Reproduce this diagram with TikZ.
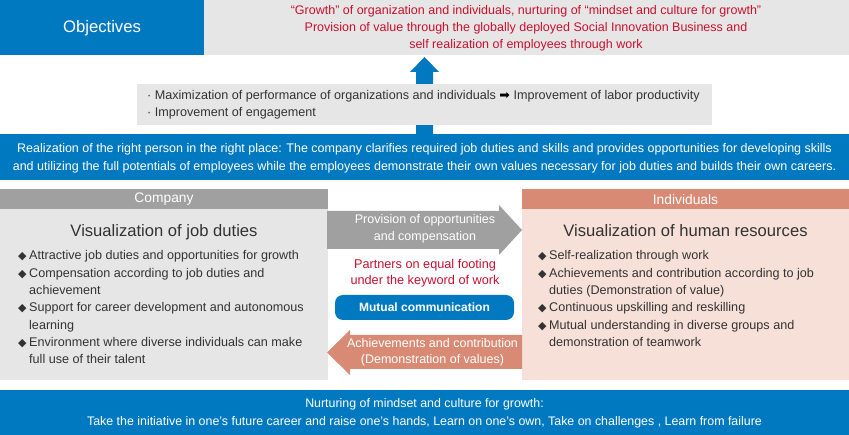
\documentclass[tikz,border=0pt]{standalone}
\usepackage{fontspec}
\setmainfont{Liberation Sans}
\newfontfamily\symfont{DejaVu Sans}
\definecolor{hblue}{RGB}{0,121,193}
\definecolor{hgray}{RGB}{160,160,160}
\definecolor{lgray}{RGB}{230,230,230}
\definecolor{salmon}{RGB}{217,138,117}
\definecolor{lpink}{RGB}{246,224,216}
\definecolor{hred}{RGB}{200,16,46}
\definecolor{dtxt}{RGB}{51,51,51}
\newcommand{\dia}{\makebox[11pt][l]{\symfont\fontsize{11}{9}\selectfont ◆}}
\begin{document}
\begin{tikzpicture}[x=1pt,y=-1pt,
  blk/.style={anchor=north west, inner sep=0pt, outer sep=0pt, draw=none},
  txt/.style={inner sep=0pt, align=center},
  body/.style={font=\fontsize{12.6}{17.3}\selectfont, text=dtxt},
]
\useasboundingbox (0,0) rectangle (849,435);
\fill[white] (0,0) rectangle (849,435);

% blue up arrow (drawn first, partly hidden)
\fill[hblue] (416,135) -- (416,72) -- (410,72) -- (424.5,57) -- (439,72) -- (433,72) -- (433,135) -- cycle;

% objectives row
\node[blk, fill=hblue, minimum width=204, minimum height=55] (objbox) at (0,0) {};
\node[blk, fill=lgray, minimum width=645, minimum height=55] (goalbox) at (204,0) {};
\node[txt, text=white, font=\fontsize{16.7}{18}\selectfont] (objtxt) at (102,28.5) {Objectives};
\node[txt, text=hred, font=\fontsize{12.5}{17}\selectfont] (goaltxt) at (526,28)
  {“Growth” of organization and individuals, nurturing of “mindset and culture for growth”\\
   Provision of value through the globally deployed Social Innovation Business and\\
   self realization of employees through work};

% KPI box
\node[blk, fill=lgray, minimum width=575, minimum height=41] (kpibox) at (137,84) {};
\node[anchor=west, inner sep=0pt, align=left, body] (kpitxt) at (147,104.5)
  {· Maximization of performance of organizations and individuals {\symfont\color{black}➡} Improvement of labor productivity\\
   · Improvement of engagement};

% right person band
\node[blk, fill=hblue, minimum width=849, minimum height=46] (rpbox) at (0,134) {};
\node[txt, text=white, font=\fontsize{12.5}{18}\selectfont] (rptxt) at (424.5,158)
  {Realization of the right person in the right place: The company clarifies required job duties and skills and provides opportunities for developing skills\\
   and utilizing the full potentials of employees while the employees demonstrate their own values necessary for job duties and builds their own careers.};

% company panel
\node[blk, fill=hgray, minimum width=328, minimum height=20] (cohead) at (0,189) {};
\node[blk, fill=lgray, minimum width=328, minimum height=171] (cobody) at (0,209) {};
\node[txt, text=white, font=\fontsize{13.8}{14}\selectfont] (cohtxt) at (164,199.5) {Company};
\node[txt, text=dtxt, font=\fontsize{16.6}{18}\selectfont] (cotitle) at (164,232) {Visualization of job duties};
\node[anchor=base west, inner sep=0pt, body] (colist) at (18,260)
  {\begin{tabular}[t]{@{}l@{}l@{}}
   \dia & Attractive job duties and opportunities for growth\\
   \dia & Compensation according to job duties and\\
        & achievement\\
   \dia & Support for career development and autonomous\\
        & learning\\
   \dia & Environment where diverse individuals can make\\
        & full use of their talent
   \end{tabular}};

% individuals panel
\node[blk, fill=salmon, minimum width=327, minimum height=20] (inhead) at (522,189) {};
\node[blk, fill=lpink, minimum width=327, minimum height=171] (inbody) at (522,209) {};
\node[txt, text=white, font=\fontsize{13.8}{14}\selectfont] (inhtxt) at (685.5,199.5) {Individuals};
\node[txt, text=dtxt, font=\fontsize{16.6}{18}\selectfont] (intitle) at (685.5,231) {Visualization of human resources};
\node[anchor=base west, inner sep=0pt, body] (inlist) at (538,260)
  {\begin{tabular}[t]{@{}l@{}l@{}}
   \dia & Self-realization through work\\
   \dia & Achievements and contribution according to job\\
        & duties (Demonstration of value)\\
   \dia & Continuous upskilling and reskilling\\
   \dia & Mutual understanding in diverse groups and\\
        & demonstration of teamwork
   \end{tabular}};

% centre arrows
\fill[hgray] (327,211) -- (499,211) -- (499,205) -- (522,230) -- (499,255) -- (499,249) -- (327,249) -- cycle;
\node[txt, text=white, font=\fontsize{12.5}{17}\selectfont] (provtxt) at (425,229) {Provision of opportunities\\and compensation};
\node[txt, text=hred, font=\fontsize{12.7}{15.5}\selectfont] (partner) at (425,273) {Partners on equal footing\\under the keyword of work};
\node[fill=hblue, rounded corners=8pt, minimum width=179, minimum height=25, inner sep=0pt,
      text=white, font=\bfseries\fontsize{12}{14}\selectfont] (mutual) at (424.5,307.5) {Mutual communication};
\fill[salmon] (522,335) -- (350,335) -- (350,330) -- (327,352.5) -- (350,375) -- (350,369) -- (522,369) -- cycle;
\node[txt, text=white, font=\fontsize{12.5}{16}\selectfont] (achtxt) at (432.5,352) {Achievements and contribution\\(Demonstration of values)};

% bottom band
\node[blk, fill=hblue, minimum width=849, minimum height=45] (cult) at (0,390) {};
\node[txt, text=white, font=\fontsize{12.4}{18}\selectfont] (culttxt) at (424.5,413)
  {Nurturing of mindset and culture for growth:\\
   Take the initiative in one’s future career and raise one’s hands, Learn on one’s own, Take on challenges , Learn from failure};
\end{tikzpicture}
\end{document}
